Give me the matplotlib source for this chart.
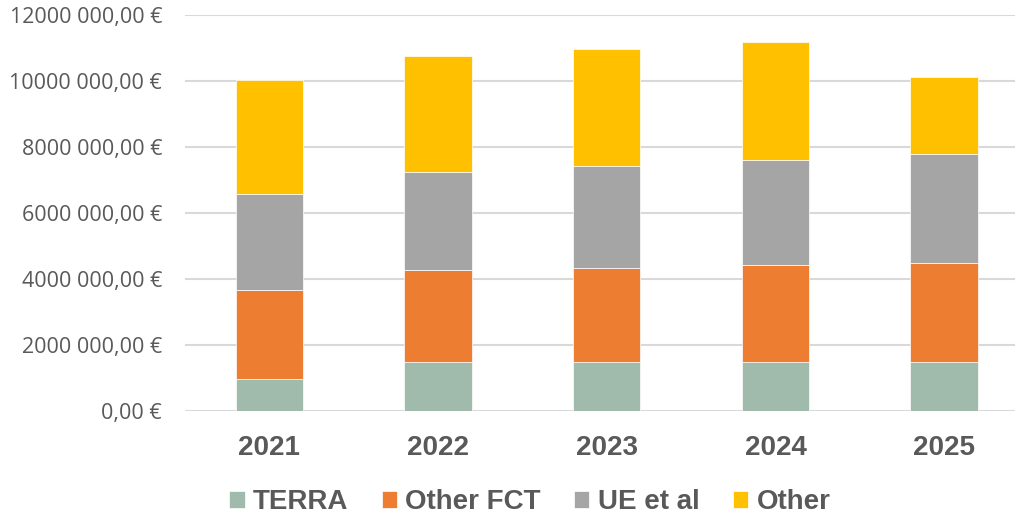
import numpy as np
import matplotlib.pyplot as plt
from matplotlib.ticker import FuncFormatter

years = ['2021', '2022', '2023', '2024', '2025']
terra = [970000, 1470000, 1470000, 1470000, 1470000]
other_fct = [2700000, 2790000, 2860000, 2940000, 3030000]
ue_et_al = [2910000, 2980000, 3090000, 3190000, 3290000]
other = [3460000, 3520000, 3540000, 3580000, 2340000]

series = [('TERRA', terra, '#A0BAAB'),
          ('Other FCT', other_fct, '#ED7D31'),
          ('UE et al', ue_et_al, '#A5A5A5'),
          ('Other', other, '#FFC000')]

text_color = '#595959'


def euro(v, pos):
    # Excel style "# ##0,00 €"
    v = int(round(v))
    if v == 0:
        return '0,00 €'
    return f'{v // 1000} {v % 1000:03d},00 €'


fig = plt.figure(figsize=(10.15, 5.16), dpi=100)
ax = fig.add_axes([185 / 1015, 105 / 516, 830 / 1015, 396 / 516])

x = np.arange(len(years))
bottom = np.zeros(len(years))
for name, vals, color in series:
    ax.bar(x, vals, 0.4, bottom=bottom, color=color, label=name,
           edgecolor='white', linewidth=0.5, zorder=3)
    bottom += np.array(vals)

ax.set_ylim(0, 12000000)
ax.set_yticks(np.arange(0, 12000001, 2000000))
ax.yaxis.set_major_formatter(FuncFormatter(euro))
ax.set_xlim(-0.5, 4.42)
ax.set_xticks(x)
ax.set_xticklabels(years, fontsize=20, fontweight='bold', color=text_color,
                   family='Liberation Sans')

ax.grid(axis='y', color='#D9D9D9', linewidth=1.5, zorder=0)
for s in ax.spines.values():
    s.set_visible(False)
ax.tick_params(axis='both', length=0)
ax.tick_params(axis='y', labelsize=15.5, labelcolor=text_color, pad=16.5)
ax.tick_params(axis='x', pad=17)
for lab in ax.get_yticklabels():
    lab.set_family('Open Sans')

leg = fig.legend(loc='center', bbox_to_anchor=(0.522, 0.027), ncol=4, frameon=False,
                 prop={'family': 'Liberation Sans', 'weight': 'bold', 'size': 20},
                 handlelength=0.55, handleheight=0.55, handletextpad=0.3,
                 columnspacing=1.2)
for t in leg.get_texts():
    t.set_color(text_color)

fig.savefig('out.png', dpi=100)
